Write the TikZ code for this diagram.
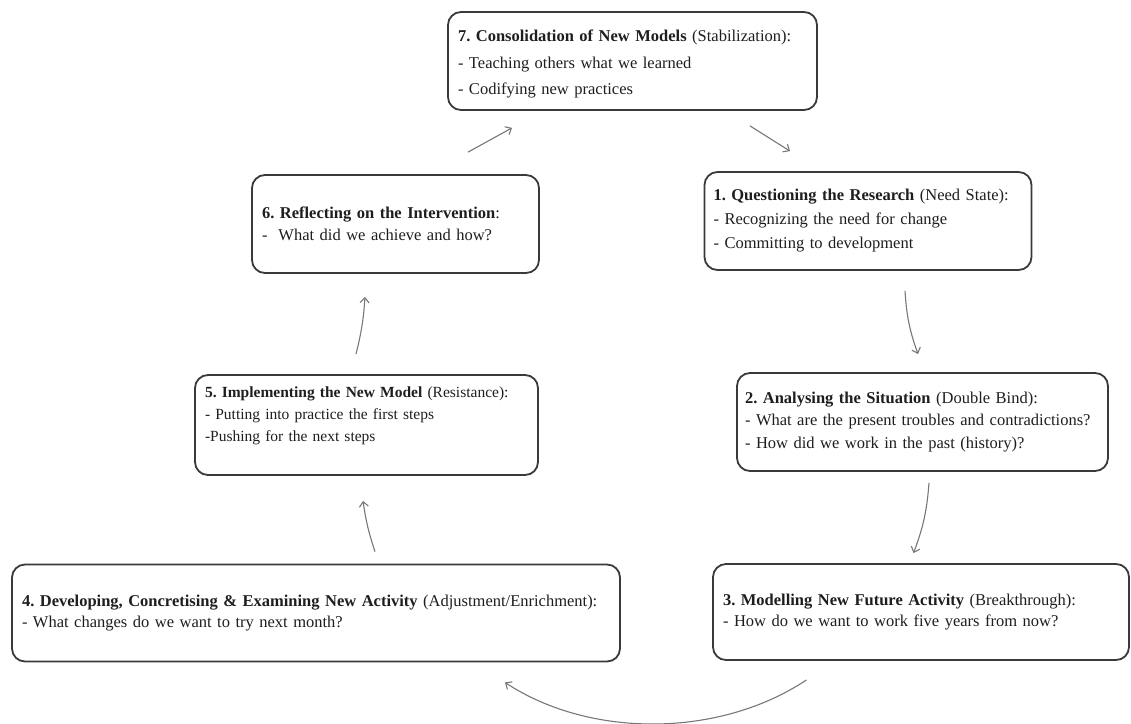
\documentclass[tikz,border=0pt]{standalone}
\usepackage{fontspec}
\setmainfont{Liberation Serif}
\frenchspacing
\usetikzlibrary{arrows.meta}
\definecolor{edge}{HTML}{3A3A3A}
\definecolor{ink}{HTML}{1E1E1E}
\definecolor{flow}{HTML}{777777}
\begin{document}
\begin{tikzpicture}[x=1pt,y=-1pt,
  stage/.style={draw=edge, line width=1.8pt, rounded corners=13pt, fill=white,
    align=left, text=ink, inner xsep=0pt, inner ysep=0pt},
  flowarrow/.style={draw=flow, line width=1.1pt,
    -{Straight Barb[length=5pt,width=9pt]}}]
\useasboundingbox (0,0) rectangle (1131,723);

% stage boxes (centre, size, text inset)
\node[stage, minimum width=369pt, minimum height=98pt, text width=349pt,
      font=\fontsize{16.5}{26.5}\selectfont] (b7) at (632.5,61)
  {\rule{0pt}{18pt}\textbf{7. Consolidation of New Models} (Stabilization):\\
   - Teaching others what we learned\\
   - Codifying new practices};

\node[stage, minimum width=327pt, minimum height=98pt, text width=309pt,
      font=\fontsize{16.5}{24}\selectfont] (b1) at (868,221)
  {\textbf{1. Questioning the Research} (Need State):\\
   - Recognizing the need for change\\
   - Committing to development};

\node[stage, minimum width=287pt, minimum height=98pt, text width=267pt,
      font=\fontsize{16.5}{22.5}\selectfont] (b6) at (395.5,224)
  {\textbf{6. Reflecting on the Intervention}:\\
   -\ \ What did we achieve and how?};

\node[stage, minimum width=371pt, minimum height=98pt, text width=355pt,
      font=\fontsize{16.5}{22.5}\selectfont] (b2) at (922.5,422)
  {\textbf{2. Analysing the Situation} (Double Bind):\\
   - What are the present troubles and contradictions?\\
   - How did we work in the past (history)?};

\node[stage, minimum width=343pt, minimum height=100pt, text width=323pt,
      font=\fontsize{15.5}{22}\selectfont] (b5) at (366.5,425)
  {\textbf{5. Implementing the New Model} (Resistance):\\
   - Putting into practice the first steps\\
   -Pushing for the next steps\\
   \mbox{}};

\node[stage, minimum width=608pt, minimum height=97pt, text width=588pt,
      font=\fontsize{16.5}{21}\selectfont] (b4) at (316,613)
  {\textbf{4. Developing, Concretising \& Examining New Activity} (Adjustment/Enrichment):\\
   - What changes do we want to try next month?};

\node[stage, minimum width=416pt, minimum height=96pt, text width=396pt,
      font=\fontsize{16.5}{21}\selectfont] (b3) at (921,612)
  {\textbf{3. Modelling New Future Activity} (Breakthrough):\\
   - How do we want to work five years from now?};

% cycle connectors
\draw[flowarrow] ([xshift=72.5pt,yshift=22pt]b6.north) -- ([xshift=-120.5pt,yshift=-17pt]b7.south);
\draw[flowarrow] ([xshift=117.5pt,yshift=-15pt]b7.south) -- ([xshift=-78pt,yshift=20pt]b1.north);
\draw[flowarrow] ([xshift=37pt,yshift=-20pt]b1.south) to[bend right=8] ([xshift=-4.5pt,yshift=18pt]b2.north);
\draw[flowarrow] ([xshift=6.5pt,yshift=-11pt]b2.south) to[bend left=8] ([xshift=-7.5pt,yshift=10pt]b3.north);
\draw[flowarrow] ([xshift=-114.5pt,yshift=-19pt]b3.south) .. controls +(-87,58) and +(85,56) .. ([xshift=189pt,yshift=-20pt]b4.south);
\draw[flowarrow] ([xshift=59pt,yshift=12pt]b4.north) to[bend left=5] ([xshift=-3.5pt,yshift=-25pt]b5.south);
\draw[flowarrow] ([xshift=-10.5pt,yshift=20pt]b5.north) to[bend right=5] ([xshift=-30.5pt,yshift=-23pt]b6.south);
\end{tikzpicture}
\end{document}
